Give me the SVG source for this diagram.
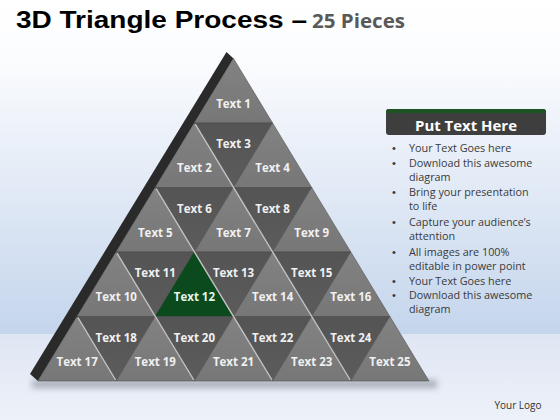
<svg xmlns="http://www.w3.org/2000/svg" width="560" height="420" viewBox="0 0 560 420">
<defs>
<linearGradient id="wall" x1="0" y1="0" x2="0" y2="1">
<stop offset="0" stop-color="#ffffff"/>
<stop offset="0.18" stop-color="#fbfcfe"/>
<stop offset="1" stop-color="#c4d5ec"/>
</linearGradient>
<linearGradient id="floor" x1="0" y1="0" x2="0" y2="1">
<stop offset="0" stop-color="#dfe6f3"/>
<stop offset="1" stop-color="#edf1f9"/>
</linearGradient>
<linearGradient id="upg" x1="0" y1="0" x2="0" y2="1">
<stop offset="0" stop-color="#828282"/>
<stop offset="1" stop-color="#777777"/>
</linearGradient>
<linearGradient id="dng" x1="0" y1="0" x2="0" y2="1">
<stop offset="0" stop-color="#545454"/>
<stop offset="1" stop-color="#5c5c5c"/>
</linearGradient>
<filter id="blur" x="-10%" y="-200%" width="120%" height="500%">
<feGaussianBlur stdDeviation="3"/>
</filter>
<style>
.up{fill:url(#upg);stroke:#555;stroke-width:0.6;stroke-linejoin:round}
.dn{fill:url(#dng);stroke:#4a4a4a;stroke-width:0.6;stroke-linejoin:round}
.gr{fill:#0b4a1d;stroke:#083a16;stroke-width:0.6}
.lbl{font-family:"Open Sans","Noto Sans",sans-serif;font-weight:bold;font-size:11.5px;fill:#f0f0f0;text-anchor:middle}
.hl{stroke:#c4c4c4;stroke-width:1.4;fill:none}
.bt{font-family:"Open Sans","Noto Sans",sans-serif;font-size:10.8px;fill:#3a3a3a}
.bu{font-family:"Liberation Sans",sans-serif;font-size:11px;fill:#3a3a3a;text-anchor:middle}
</style>
</defs>

<g id="background">
<rect x="0" y="0" width="560" height="334" fill="url(#wall)"/>
<rect x="0" y="334" width="560" height="86" fill="url(#floor)"/>
<rect x="32" y="380" width="405" height="8" fill="#8d939c" opacity="0.7" filter="url(#blur)"/>
</g>

<g id="title">
<text x="16" y="28" font-family="Liberation Sans, Arial, sans-serif" font-weight="bold" font-size="23" fill="#000" textLength="291" lengthAdjust="spacingAndGlyphs">3D Triangle Process –</text>
<text x="312" y="28" font-family="Open Sans, Noto Sans, sans-serif" font-weight="bold" font-size="19" fill="#595959" textLength="93" lengthAdjust="spacingAndGlyphs">25 Pieces</text>
</g>

<g id="pyramid-side">
<polygon points="233.5,58.5 38,381 30,374 226.5,52" fill="#2a2a2a"/>
</g>

<g id="t1"><polygon class="up" points="233.5,58.5 194.4,123 272.6,123"/><text class="lbl" x="233.5" y="107.7">Text 1</text></g>
<g id="t2"><polygon class="up" points="194.4,123 155.3,187.5 233.5,187.5"/><text class="lbl" x="194.4" y="172.2">Text 2</text></g>
<g id="t3"><polygon class="dn" points="194.4,123 272.6,123 233.5,187.5"/><text class="lbl" x="233.5" y="148.2">Text 3</text></g>
<g id="t4"><polygon class="up" points="272.6,123 233.5,187.5 311.7,187.5"/><text class="lbl" x="272.6" y="172.2">Text 4</text></g>
<g id="t5"><polygon class="up" points="155.3,187.5 116.2,252 194.4,252"/><text class="lbl" x="155.3" y="236.7">Text 5</text></g>
<g id="t6"><polygon class="dn" points="155.3,187.5 233.5,187.5 194.4,252"/><text class="lbl" x="194.4" y="212.7">Text 6</text></g>
<g id="t7"><polygon class="up" points="233.5,187.5 194.4,252 272.6,252"/><text class="lbl" x="233.5" y="236.7">Text 7</text></g>
<g id="t8"><polygon class="dn" points="233.5,187.5 311.7,187.5 272.6,252"/><text class="lbl" x="272.6" y="212.7">Text 8</text></g>
<g id="t9"><polygon class="up" points="311.7,187.5 272.6,252 350.8,252"/><text class="lbl" x="311.7" y="236.7">Text 9</text></g>
<g id="t10"><polygon class="up" points="116.2,252 77.1,316.5 155.3,316.5"/><text class="lbl" x="116.2" y="301.2">Text 10</text></g>
<g id="t11"><polygon class="dn" points="116.2,252 194.4,252 155.3,316.5"/><text class="lbl" x="155.3" y="277.2">Text 11</text></g>
<g id="t12"><polygon class="gr" points="194.4,252 155.3,316.5 233.5,316.5"/><text class="lbl" x="194.4" y="301.2" style="fill:#e6f4e6">Text 12</text></g>
<g id="t13"><polygon class="dn" points="194.4,252 272.6,252 233.5,316.5"/><text class="lbl" x="233.5" y="277.2">Text 13</text></g>
<g id="t14"><polygon class="up" points="272.6,252 233.5,316.5 311.7,316.5"/><text class="lbl" x="272.6" y="301.2">Text 14</text></g>
<g id="t15"><polygon class="dn" points="272.6,252 350.8,252 311.7,316.5"/><text class="lbl" x="311.7" y="277.2">Text 15</text></g>
<g id="t16"><polygon class="up" points="350.8,252 311.7,316.5 389.9,316.5"/><text class="lbl" x="350.8" y="301.2">Text 16</text></g>
<g id="t17"><polygon class="up" points="77.1,316.5 38,381 116.2,381"/><text class="lbl" x="77.1" y="365.7">Text 17</text></g>
<g id="t18"><polygon class="dn" points="77.1,316.5 155.3,316.5 116.2,381"/><text class="lbl" x="116.2" y="341.7">Text 18</text></g>
<g id="t19"><polygon class="up" points="155.3,316.5 116.2,381 194.4,381"/><text class="lbl" x="155.3" y="365.7">Text 19</text></g>
<g id="t20"><polygon class="dn" points="155.3,316.5 233.5,316.5 194.4,381"/><text class="lbl" x="194.4" y="341.7">Text 20</text></g>
<g id="t21"><polygon class="up" points="233.5,316.5 194.4,381 272.6,381"/><text class="lbl" x="233.5" y="365.7">Text 21</text></g>
<g id="t22"><polygon class="dn" points="233.5,316.5 311.7,316.5 272.6,381"/><text class="lbl" x="272.6" y="341.7">Text 22</text></g>
<g id="t23"><polygon class="up" points="311.7,316.5 272.6,381 350.8,381"/><text class="lbl" x="311.7" y="365.7">Text 23</text></g>
<g id="t24"><polygon class="dn" points="311.7,316.5 389.9,316.5 350.8,381"/><text class="lbl" x="350.8" y="341.7">Text 24</text></g>
<g id="t25"><polygon class="up" points="389.9,316.5 350.8,381 429,381"/><text class="lbl" x="389.9" y="365.7">Text 25</text></g>

<g id="bevels">
<line class="hl" x1="195.2" y1="124.2" x2="350.2" y2="380"/>
<line class="hl" x1="156.1" y1="188.7" x2="272" y2="380"/>
<line class="hl" x1="117" y1="253.2" x2="193.8" y2="380"/>
<line class="hl" x1="77.9" y1="317.7" x2="115.6" y2="380"/>
</g>

<g id="header">
<rect x="386" y="109" width="160" height="26" rx="3" fill="#3e3e3e"/>
<path d="M389,109 H543 A3,3 0 0 1 546,112 V113 H386 V112 A3,3 0 0 1 389,109 Z" fill="#1d5223"/>
<text x="466" y="131" font-family="Open Sans, Noto Sans, sans-serif" font-weight="bold" font-size="14.5" fill="#ffffff" text-anchor="middle" textLength="102" lengthAdjust="spacingAndGlyphs">Put Text Here</text>
</g>

<g id="bullets">
<text class="bu" x="394" y="151.7">•</text><text class="bt" x="409" y="151.7">Your Text Goes here</text>
<text class="bu" x="394" y="166.7">•</text><text class="bt" x="409" y="166.7">Download this awesome</text>
<text class="bt" x="409" y="180.5">diagram</text>
<text class="bu" x="394" y="196">•</text><text class="bt" x="409" y="196">Bring your presentation</text>
<text class="bt" x="409" y="210">to life</text>
<text class="bu" x="394" y="226">•</text><text class="bt" x="409" y="226">Capture your audience’s</text>
<text class="bt" x="409" y="240">attention</text>
<text class="bu" x="394" y="256">•</text><text class="bt" x="409" y="256">All images are 100%</text>
<text class="bt" x="409" y="270">editable in power point</text>
<text class="bu" x="394" y="285">•</text><text class="bt" x="409" y="285">Your Text Goes here</text>
<text class="bu" x="394" y="299.3">•</text><text class="bt" x="409" y="299.3">Download this awesome</text>
<text class="bt" x="409" y="313">diagram</text>
</g>

<g id="logo">
<text x="518" y="409" font-family="Open Sans, Noto Sans, sans-serif" font-size="10" fill="#333333" text-anchor="middle">Your Logo</text>
</g>
</svg>
